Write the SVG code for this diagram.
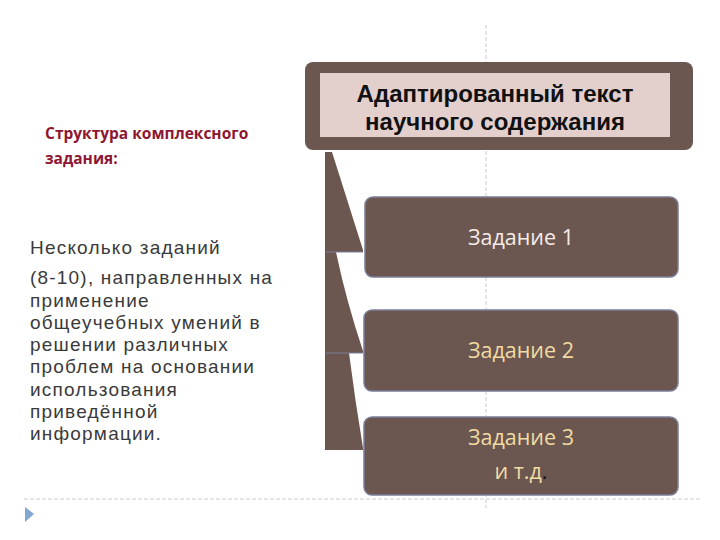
<svg xmlns="http://www.w3.org/2000/svg" width="720" height="540" viewBox="0 0 720 540">
<style>
.guide{stroke:#c8ccd4;stroke-width:1;stroke-dasharray:4 2;fill:none}
.task{fill:#6b5650;stroke:#7b7f98;stroke-width:1.5}
.tt{font-family:"Open Sans","Noto Sans",sans-serif;font-size:21.5px;text-anchor:middle}
.wedge{fill:#6b5650}
.body{font-family:"Liberation Sans",Arial,sans-serif;font-size:19px;letter-spacing:1.2px;fill:#3a3a3a}
.hd{font-family:"Liberation Sans",Arial,sans-serif;font-weight:bold;font-size:24px;text-anchor:middle;fill:#111}
</style>
<rect width="720" height="540" fill="#ffffff"/>
<line class="guide" x1="486" y1="25" x2="486" y2="508"/>
<line class="guide" x1="24" y1="499" x2="700" y2="499"/>
<polygon points="25,507 34,514 25,522" fill="#7fa7cf"/>

<g id="connectors">
<path class="wedge" d="M325,152 L332,152 L363,250 L363,252 L325,252 Z"/>
<path class="wedge" d="M325,252 L336,252 Q346,300 363,351 L363,353 L325,353 Z"/>
<path class="wedge" d="M325,353 L349,353 Q355,400 363,448 L363,450 L325,450 Z"/>
<line x1="325" y1="252" x2="363" y2="252" stroke="#7b7f98" stroke-width="1"/>
<line x1="325" y1="353" x2="363" y2="353" stroke="#7b7f98" stroke-width="1"/>
<line x1="325.5" y1="152" x2="325.5" y2="450" stroke="#5c5660" stroke-width="1"/>
</g>

<g id="header">
<rect x="305" y="62" width="388" height="88" rx="8" fill="#6b5650"/>
<rect x="320" y="73" width="350" height="64" fill="#e3d0cd"/>
<text class="hd" x="495" y="102">Адаптированный  текст</text>
<text class="hd" x="495" y="130">научного содержания</text>
</g>

<g id="task1">
<rect class="task" x="365" y="197" width="313" height="80" rx="8"/>
<text class="tt" x="521" y="245" fill="#f6ece8">Задание 1</text>
</g>
<g id="task2">
<rect class="task" x="364" y="310" width="314" height="81" rx="8"/>
<text class="tt" x="521" y="358" fill="#f1dca3">Задание 2</text>
</g>
<g id="task3">
<rect class="task" x="364" y="417" width="314" height="78" rx="8"/>
<text class="tt" x="521" y="445" fill="#f1dca3">Задание 3</text>
<text class="tt" x="521" y="479" fill="#f1dca3">и т.д<tspan fill="#111">.</tspan></text>
</g>

<g id="caption">
<text font-family="Open Sans,Noto Sans,sans-serif" font-size="15.5" font-weight="bold" fill="#8e1630">
<tspan x="45" y="139">Структура комплексного</tspan>
<tspan x="45" y="164">задания:</tspan>
</text>
</g>

<g id="description">
<text class="body">
<tspan x="30" y="254">Несколько заданий</tspan>
<tspan x="30" y="284">(8-10), направленных на</tspan>
<tspan x="30" y="307">применение</tspan>
<tspan x="30" y="329">общеучебных умений в</tspan>
<tspan x="30" y="351">решении различных</tspan>
<tspan x="30" y="373">проблем на основании</tspan>
<tspan x="30" y="396">использования</tspan>
<tspan x="30" y="418">приведённой</tspan>
<tspan x="30" y="440">информации.</tspan>
</text>
</g>
</svg>
